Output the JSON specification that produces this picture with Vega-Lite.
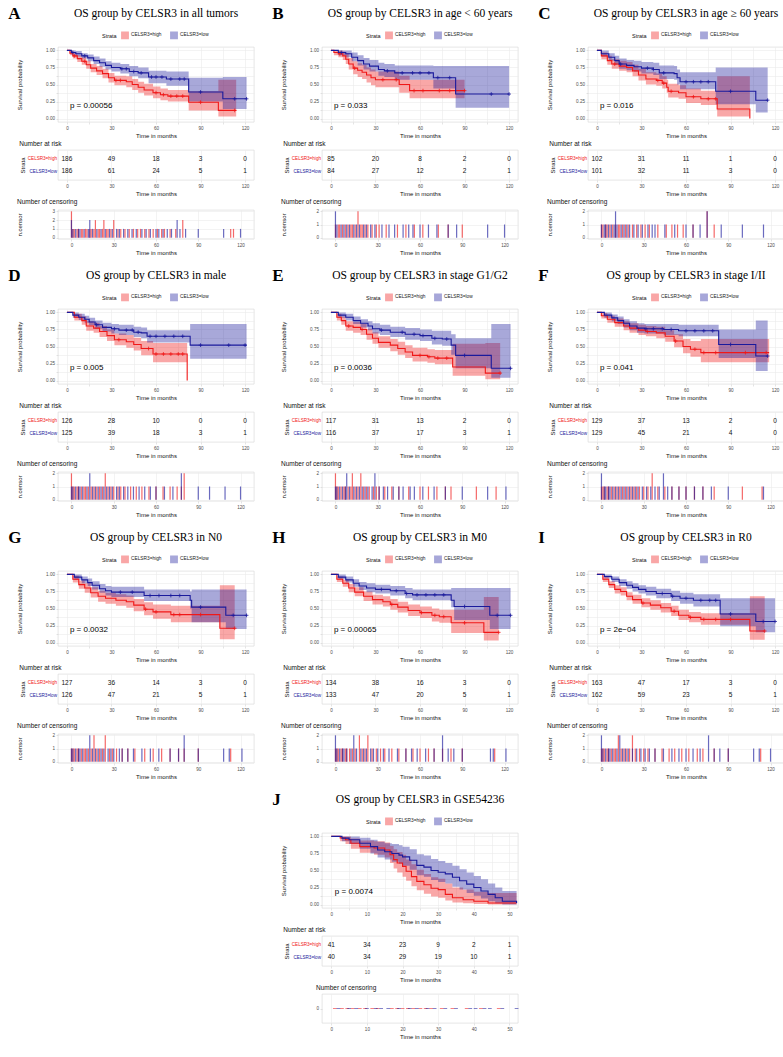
{
"$schema":"https://vega.github.io/schema/vega-lite/v6.json",
"padding":{"left":8,"top":5,"right":2,"bottom":2},
"background":"white",
"columns":3,
"spacing":{"row":11,"column":17},
"resolve":{"scale":{"color":"independent"},"legend":{"color":"independent"}},
"datasets":{
"km":[
{"p":"A","g":"CELSR3=high","t":[0,2,4,7,10,13,16,20,24,28,32,40,44,48,52,58,63,68,82,102,114],"s":[1,0.96,0.92,0.88,0.84,0.79,0.74,0.7,0.66,0.6,0.56,0.54,0.5,0.46,0.42,0.38,0.35,0.33,0.24,0.12,0.12],"lo":[1,0.93,0.88,0.83,0.79,0.73,0.68,0.64,0.59,0.53,0.49,0.46,0.42,0.38,0.34,0.3,0.27,0.25,0.12,0.03,0.03],"hi":[1,0.99,0.96,0.93,0.9,0.85,0.8,0.77,0.73,0.67,0.63,0.62,0.58,0.54,0.51,0.47,0.44,0.42,0.4,0.57,0.57]},
{"p":"A","g":"CELSR3=low","t":[0,3,6,10,14,18,22,26,30,36,42,48,55,67,82,105,121],"s":[1,0.97,0.95,0.92,0.89,0.85,0.82,0.78,0.75,0.73,0.69,0.67,0.61,0.58,0.39,0.29,0.29],"lo":[1,0.94,0.91,0.88,0.84,0.8,0.76,0.72,0.69,0.66,0.62,0.59,0.52,0.48,0.25,0.14,0.14],"hi":[1,1,0.99,0.96,0.94,0.91,0.88,0.84,0.82,0.8,0.77,0.75,0.7,0.69,0.6,0.61,0.61]},
{"p":"B","g":"CELSR3=high","t":[0,2,5,8,10,12,15,18,21,24,27,30,46,53,90],"s":[1,0.97,0.95,0.92,0.87,0.8,0.74,0.71,0.68,0.64,0.6,0.57,0.5,0.41,0.41],"lo":[1,0.93,0.9,0.86,0.8,0.72,0.65,0.61,0.58,0.53,0.49,0.46,0.38,0.3,0.3],"hi":[1,1,1,0.98,0.95,0.89,0.84,0.81,0.79,0.75,0.72,0.69,0.63,0.57,0.57]},
{"p":"B","g":"CELSR3=low","t":[0,5,10,14,18,22,26,32,36,43,69,84,120],"s":[1,0.97,0.95,0.9,0.85,0.8,0.77,0.72,0.7,0.67,0.6,0.36,0.36],"lo":[1,0.93,0.9,0.84,0.78,0.72,0.69,0.63,0.61,0.57,0.44,0.16,0.16],"hi":[1,1,1,0.97,0.93,0.89,0.86,0.82,0.8,0.78,0.77,0.77,0.77]},
{"p":"C","g":"CELSR3=high","t":[0,3,7,10,15,20,24,28,33,40,44,47,48,55,60,70,81,103],"s":[1,0.92,0.85,0.8,0.77,0.75,0.7,0.64,0.58,0.56,0.52,0.46,0.4,0.38,0.32,0.29,0.14,0],"lo":[1,0.87,0.79,0.73,0.7,0.68,0.62,0.56,0.5,0.48,0.44,0.38,0.31,0.29,0.23,0.2,0.03,0],"hi":[1,0.97,0.92,0.87,0.85,0.83,0.79,0.73,0.68,0.66,0.62,0.57,0.51,0.49,0.44,0.41,0.62,0]},
{"p":"C","g":"CELSR3=low","t":[0,3,8,12,15,20,25,30,38,42,52,54,56,80,107,115],"s":[1,0.95,0.9,0.85,0.8,0.78,0.76,0.74,0.72,0.67,0.66,0.6,0.54,0.4,0.27,0.27],"lo":[1,0.91,0.85,0.79,0.73,0.71,0.69,0.66,0.64,0.58,0.57,0.5,0.43,0.21,0.09,0.09],"hi":[1,1,0.96,0.92,0.88,0.86,0.85,0.83,0.82,0.78,0.77,0.72,0.68,0.75,0.75,0.75]},
{"p":"D","g":"CELSR3=high","t":[0,5,10,13,18,22,27,32,40,45,50,58,81],"s":[1,0.93,0.88,0.8,0.77,0.72,0.66,0.6,0.57,0.53,0.47,0.39,0],"lo":[1,0.88,0.82,0.73,0.7,0.64,0.58,0.52,0.48,0.44,0.37,0.27,0],"hi":[1,0.98,0.94,0.87,0.85,0.8,0.75,0.69,0.67,0.63,0.58,0.55,0]},
{"p":"D","g":"CELSR3=low","t":[0,4,8,12,15,19,24,30,35,45,50,54,83,121],"s":[1,0.96,0.93,0.9,0.86,0.82,0.78,0.76,0.74,0.71,0.7,0.65,0.52,0.52],"lo":[1,0.92,0.89,0.85,0.81,0.76,0.72,0.69,0.67,0.64,0.62,0.56,0.32,0.32],"hi":[1,1,0.98,0.95,0.92,0.88,0.85,0.83,0.82,0.79,0.78,0.74,0.83,0.83]},
{"p":"E","g":"CELSR3=high","t":[0,4,7,10,15,20,24,28,32,40,45,50,55,65,70,82,104,114],"s":[1,0.93,0.88,0.8,0.78,0.75,0.68,0.62,0.56,0.52,0.47,0.42,0.37,0.35,0.33,0.2,0.11,0.11],"lo":[1,0.88,0.82,0.73,0.7,0.67,0.6,0.54,0.48,0.43,0.38,0.33,0.28,0.26,0.24,0.07,0.02,0.02],"hi":[1,0.98,0.94,0.87,0.86,0.83,0.76,0.71,0.65,0.61,0.57,0.52,0.48,0.46,0.45,0.54,0.55,0.55]},
{"p":"E","g":"CELSR3=low","t":[0,5,10,15,20,25,28,33,40,50,60,68,75,81,84,108,121],"s":[1,0.96,0.93,0.88,0.84,0.8,0.76,0.74,0.71,0.68,0.66,0.62,0.61,0.52,0.37,0.18,0.18],"lo":[1,0.92,0.88,0.83,0.78,0.74,0.69,0.67,0.64,0.6,0.58,0.53,0.51,0.38,0.18,0.04,0.04],"hi":[1,1,0.98,0.94,0.9,0.87,0.84,0.82,0.79,0.77,0.75,0.73,0.73,0.68,0.62,0.83,0.83]},
{"p":"F","g":"CELSR3=high","t":[0,3,7,12,18,22,28,33,40,46,52,58,63,70,116],"s":[1,0.95,0.9,0.85,0.8,0.77,0.74,0.72,0.7,0.65,0.58,0.5,0.46,0.41,0.41],"lo":[1,0.91,0.85,0.79,0.74,0.7,0.67,0.65,0.62,0.57,0.49,0.4,0.35,0.27,0.27],"hi":[1,0.99,0.95,0.91,0.87,0.84,0.82,0.8,0.79,0.74,0.68,0.61,0.58,0.61,0.61]},
{"p":"F","g":"CELSR3=low","t":[0,5,10,14,18,22,27,32,45,55,82,107,115],"s":[1,0.96,0.92,0.88,0.84,0.8,0.77,0.76,0.75,0.73,0.53,0.36,0.36],"lo":[1,0.92,0.87,0.83,0.78,0.74,0.7,0.69,0.67,0.65,0.33,0.14,0.14],"hi":[1,1,0.97,0.94,0.9,0.87,0.84,0.83,0.83,0.82,0.75,0.88,0.88]},
{"p":"G","g":"CELSR3=high","t":[0,4,8,12,16,21,26,33,40,45,52,58,70,103,113],"s":[1,0.93,0.85,0.8,0.73,0.68,0.65,0.62,0.6,0.55,0.49,0.45,0.41,0.21,0.21],"lo":[1,0.88,0.79,0.73,0.66,0.6,0.57,0.54,0.51,0.46,0.4,0.35,0.3,0.05,0.05],"hi":[1,0.98,0.91,0.87,0.81,0.76,0.73,0.71,0.69,0.64,0.59,0.56,0.54,0.84,0.84]},
{"p":"G","g":"CELSR3=low","t":[0,5,10,14,17,22,26,30,52,83,84,107,121],"s":[1,0.96,0.92,0.88,0.84,0.79,0.76,0.74,0.69,0.62,0.52,0.4,0.4],"lo":[1,0.92,0.87,0.83,0.78,0.73,0.69,0.67,0.61,0.5,0.3,0.2,0.2],"hi":[1,1,0.97,0.94,0.9,0.86,0.83,0.82,0.78,0.75,0.78,0.78,0.78]},
{"p":"H","g":"CELSR3=high","t":[0,4,8,12,16,22,28,35,40,45,52,60,68,73,81,103,113],"s":[1,0.93,0.87,0.8,0.74,0.68,0.63,0.6,0.56,0.52,0.47,0.44,0.4,0.38,0.29,0.15,0.15],"lo":[1,0.89,0.82,0.74,0.68,0.61,0.56,0.53,0.48,0.44,0.39,0.36,0.31,0.29,0.14,0.03,0.03],"hi":[1,0.97,0.92,0.86,0.81,0.75,0.7,0.68,0.64,0.6,0.56,0.53,0.5,0.48,0.48,0.67,0.67]},
{"p":"H","g":"CELSR3=low","t":[0,5,10,15,19,24,30,40,50,55,81,83,107,121],"s":[1,0.96,0.92,0.87,0.83,0.8,0.78,0.76,0.72,0.7,0.62,0.53,0.4,0.4],"lo":[1,0.93,0.88,0.82,0.77,0.74,0.72,0.69,0.65,0.62,0.52,0.33,0.2,0.2],"hi":[1,1,0.97,0.93,0.89,0.87,0.85,0.83,0.8,0.78,0.8,0.8,0.8,0.8]},
{"p":"I","g":"CELSR3=high","t":[0,4,8,12,16,20,24,30,36,43,50,55,62,70,103,113],"s":[1,0.93,0.85,0.78,0.75,0.68,0.63,0.58,0.55,0.51,0.46,0.4,0.37,0.34,0.17,0.17],"lo":[1,0.89,0.8,0.72,0.69,0.62,0.57,0.52,0.48,0.44,0.39,0.33,0.3,0.26,0.04,0.04],"hi":[1,0.97,0.9,0.84,0.81,0.74,0.7,0.65,0.62,0.58,0.54,0.48,0.45,0.43,0.68,0.68]},
{"p":"I","g":"CELSR3=low","t":[0,5,10,15,20,24,28,33,40,50,56,65,83,107,120],"s":[1,0.97,0.93,0.88,0.84,0.81,0.78,0.75,0.72,0.68,0.65,0.62,0.42,0.31,0.31],"lo":[1,0.94,0.89,0.83,0.79,0.75,0.72,0.69,0.65,0.61,0.57,0.53,0.24,0.15,0.15],"hi":[1,1,0.97,0.93,0.9,0.87,0.84,0.82,0.79,0.76,0.73,0.71,0.65,0.65,0.65]},
{"p":"J","g":"CELSR3=high","t":[0,2.5,4,5.5,8,12,15,16.5,17.5,18.5,20,21,22.5,24,26,28,30,32,34,37,40,44,52],"s":[1,0.976,0.95,0.9,0.85,0.83,0.8,0.73,0.66,0.61,0.56,0.49,0.41,0.34,0.29,0.24,0.22,0.15,0.1,0.07,0.05,0.024,0.024],"lo":[1,0.93,0.89,0.82,0.76,0.73,0.69,0.61,0.53,0.47,0.41,0.35,0.27,0.21,0.16,0.12,0.1,0.06,0.03,0.02,0.01,0,0],"hi":[1,1,1,0.97,0.94,0.93,0.91,0.86,0.81,0.77,0.73,0.66,0.59,0.51,0.45,0.4,0.38,0.31,0.25,0.22,0.19,0.17,0.17]},
{"p":"J","g":"CELSR3=low","t":[0,3,5,8,11,13,15,17,19,20,22,24,26,28,30,32,34,36,38,40,42,44,46,48,52],"s":[1,0.975,0.95,0.9,0.85,0.8,0.775,0.75,0.725,0.7,0.65,0.575,0.55,0.5,0.475,0.45,0.4,0.35,0.3,0.25,0.2,0.15,0.1,0.05,0.025],"lo":[1,0.93,0.89,0.82,0.75,0.69,0.66,0.63,0.6,0.57,0.51,0.43,0.41,0.36,0.33,0.31,0.26,0.22,0.17,0.13,0.09,0.05,0.02,0,0],"hi":[1,1,1,0.98,0.95,0.92,0.9,0.89,0.87,0.85,0.81,0.74,0.72,0.67,0.64,0.61,0.57,0.52,0.47,0.42,0.37,0.31,0.25,0.2,0.2]}
],
"cr":[
{"p":"A","g":"CELSR3=high","t":[5,12,33,36,60,65,70,74,78,90,113],"s":[0.92,0.84,0.56,0.56,0.38,0.35,0.33,0.33,0.33,0.24,0.12]},
{"p":"A","g":"CELSR3=low","t":[4,12,37,40,45,50,57,60,64,70,76,79,90,113,121],"s":[0.97,0.92,0.73,0.73,0.69,0.67,0.61,0.61,0.61,0.58,0.58,0.58,0.39,0.29,0.29]},
{"p":"B","g":"CELSR3=high","t":[6,16,35,44,56,62,73,80,90],"s":[0.95,0.74,0.57,0.57,0.41,0.41,0.41,0.41,0.41]},
{"p":"B","g":"CELSR3=low","t":[7,38,48,55,60,66,72,80,108,120],"s":[0.97,0.7,0.67,0.67,0.67,0.67,0.6,0.6,0.36,0.36]},
{"p":"C","g":"CELSR3=high","t":[12,41,45,50,65,75,80],"s":[0.8,0.56,0.52,0.4,0.32,0.29,0.29]},
{"p":"C","g":"CELSR3=low","t":[16,34,38,45,60,65,70,75,90,115],"s":[0.8,0.74,0.72,0.67,0.54,0.54,0.54,0.54,0.4,0.27]},
{"p":"D","g":"CELSR3=high","t":[35,55,60,65,70,75,78],"s":[0.6,0.47,0.39,0.39,0.39,0.39,0.39]},
{"p":"D","g":"CELSR3=low","t":[20,32,40,44,48,56,60,66,72,78,90,109,120],"s":[0.82,0.76,0.74,0.74,0.71,0.65,0.65,0.65,0.65,0.65,0.52,0.52,0.52]},
{"p":"E","g":"CELSR3=high","t":[12,21,60,66,72,78,114],"s":[0.8,0.75,0.37,0.35,0.33,0.33,0.11]},
{"p":"E","g":"CELSR3=low","t":[34,48,56,62,70,78,90,121],"s":[0.74,0.71,0.68,0.66,0.62,0.61,0.37,0.18]},
{"p":"F","g":"CELSR3=high","t":[34,53,66,72,80,100,114],"s":[0.72,0.58,0.46,0.41,0.41,0.41,0.41]},
{"p":"F","g":"CELSR3=low","t":[33,38,44,50,60,66,72,78,90,115],"s":[0.76,0.76,0.76,0.75,0.73,0.73,0.73,0.73,0.53,0.36]},
{"p":"G","g":"CELSR3=high","t":[53,60,72,76,90,113],"s":[0.49,0.45,0.41,0.41,0.41,0.21]},
{"p":"G","g":"CELSR3=low","t":[36,44,56,62,70,76,90,112,121],"s":[0.74,0.74,0.69,0.69,0.69,0.69,0.52,0.4,0.4]},
{"p":"H","g":"CELSR3=high","t":[41,61,70,76,90,113],"s":[0.56,0.44,0.4,0.38,0.29,0.15]},
{"p":"H","g":"CELSR3=low","t":[34,44,51,58,64,70,76,90,112,121],"s":[0.78,0.76,0.72,0.7,0.7,0.7,0.7,0.53,0.4,0.4]},
{"p":"I","g":"CELSR3=high","t":[31,52,63,72,80,90,113],"s":[0.58,0.46,0.37,0.34,0.34,0.34,0.17]},
{"p":"I","g":"CELSR3=low","t":[44,51,60,70,76,80,90,112,120],"s":[0.72,0.68,0.65,0.62,0.62,0.62,0.42,0.31,0.31]}
],
"risk":[
{"p":"A","g":"CELSR3=high","t":[0,30,60,90,120],"n":[186,49,18,3,0]},
{"p":"A","g":"CELSR3=low","t":[0,30,60,90,120],"n":[186,61,24,5,1]},
{"p":"B","g":"CELSR3=high","t":[0,30,60,90,120],"n":[85,20,8,2,0]},
{"p":"B","g":"CELSR3=low","t":[0,30,60,90,120],"n":[84,27,12,2,1]},
{"p":"C","g":"CELSR3=high","t":[0,30,60,90,120],"n":[102,31,11,1,0]},
{"p":"C","g":"CELSR3=low","t":[0,30,60,90,120],"n":[101,32,11,3,0]},
{"p":"D","g":"CELSR3=high","t":[0,30,60,90,120],"n":[126,28,10,0,0]},
{"p":"D","g":"CELSR3=low","t":[0,30,60,90,120],"n":[125,39,18,3,1]},
{"p":"E","g":"CELSR3=high","t":[0,30,60,90,120],"n":[117,31,13,2,0]},
{"p":"E","g":"CELSR3=low","t":[0,30,60,90,120],"n":[116,37,17,3,1]},
{"p":"F","g":"CELSR3=high","t":[0,30,60,90,120],"n":[129,37,13,2,0]},
{"p":"F","g":"CELSR3=low","t":[0,30,60,90,120],"n":[129,45,21,4,0]},
{"p":"G","g":"CELSR3=high","t":[0,30,60,90,120],"n":[127,36,14,3,0]},
{"p":"G","g":"CELSR3=low","t":[0,30,60,90,120],"n":[126,47,21,5,1]},
{"p":"H","g":"CELSR3=high","t":[0,30,60,90,120],"n":[134,38,16,3,0]},
{"p":"H","g":"CELSR3=low","t":[0,30,60,90,120],"n":[133,47,20,5,1]},
{"p":"I","g":"CELSR3=high","t":[0,30,60,90,120],"n":[163,47,17,3,0]},
{"p":"I","g":"CELSR3=low","t":[0,30,60,90,120],"n":[162,59,23,5,1]},
{"p":"J","g":"CELSR3=high","t":[0,10,20,30,40,50],"n":[41,34,23,9,2,1]},
{"p":"J","g":"CELSR3=low","t":[0,10,20,30,40,50],"n":[40,34,29,19,10,1]}
],
"cen":[
{"p":"A","g":"CELSR3=high","t":[0,1,2,4,5,7,8,10,11,13,14,16,17,19,20,22,23,25,26,28,30,33,35,38,41,44,47,49,52,55,58,61,64,66,70,74,79,113,115],"n":[3,1,1,1,1,1,1,1,1,1,1,1,2,1,1,1,2,1,1,1,2,1,1,1,1,1,1,1,1,1,1,1,1,1,1,1,2,1,1]},
{"p":"A","g":"CELSR3=low","t":[0,1,3,5,6,9,12,13,15,18,21,24,27,29,32,34,37,40,43,46,50,53,56,60,62,65,68,71,75,77,81,90,108,120],"n":[2,1,1,1,1,1,1,2,1,1,1,1,1,1,1,1,1,1,1,1,1,1,1,1,1,1,1,1,2,1,1,1,1,1]},
{"p":"B","g":"CELSR3=high","t":[0,2,3,5,7,9,11,12,14,16,18,19,21,23,26,29,31,36,44,50,56,62,73,80,90],"n":[1,1,1,1,1,1,1,1,1,2,1,1,1,1,1,1,1,1,1,1,1,1,1,1,1]},
{"p":"B","g":"CELSR3=low","t":[0,1,4,6,8,10,13,15,17,20,22,25,28,33,38,42,48,52,55,60,66,72,80,86,108,120],"n":[2,1,1,1,1,1,1,1,1,1,1,1,1,1,1,1,1,1,1,1,1,1,1,1,1,1]},
{"p":"C","g":"CELSR3=high","t":[0,1,3,4,6,8,10,12,13,15,17,19,22,25,28,31,34,40,46,50,54,58,65,75,80],"n":[1,1,1,1,1,1,1,1,1,1,1,1,1,1,1,1,1,1,1,1,1,1,1,2,1]},
{"p":"C","g":"CELSR3=low","t":[0,2,3,5,7,9,10,11,14,16,18,20,23,26,29,33,36,38,45,52,60,65,70,75,85,100,115],"n":[1,1,1,1,1,1,2,1,1,1,1,1,1,1,1,1,1,1,1,1,1,1,1,2,1,1,1]},
{"p":"D","g":"CELSR3=high","t":[0,1,2,4,5,7,9,10,12,14,16,18,20,22,24,26,28,30,33,35,38,42,46,50,55,60,65,70,75,78,80],"n":[2,1,1,1,1,1,1,1,1,1,1,1,1,1,2,1,1,1,1,1,1,1,1,1,1,1,1,1,1,1,2]},
{"p":"D","g":"CELSR3=low","t":[0,1,3,5,6,8,11,13,15,17,19,21,23,25,27,29,32,34,37,40,44,48,52,56,60,66,72,78,90,98,109,120],"n":[1,1,1,1,1,1,1,2,1,1,1,1,1,1,1,1,1,1,1,1,1,1,1,1,1,1,1,2,1,1,1,1]},
{"p":"E","g":"CELSR3=high","t":[0,1,2,4,6,7,9,11,12,14,16,18,20,22,24,27,29,31,35,40,45,52,60,66,72,78,82,100,114],"n":[2,1,1,1,1,1,1,1,2,1,1,2,1,1,1,1,1,1,1,1,1,1,1,1,1,1,1,1,1]},
{"p":"E","g":"CELSR3=low","t":[0,1,3,5,7,8,10,13,15,17,19,21,23,26,28,31,34,37,41,45,48,53,56,62,70,78,90,108,121],"n":[1,1,1,1,1,2,1,1,1,1,1,1,1,1,2,1,1,1,1,1,1,1,1,1,1,1,1,1,1]},
{"p":"F","g":"CELSR3=high","t":[0,1,2,4,5,7,9,11,13,15,17,19,21,23,25,27,30,33,36,40,45,50,55,60,66,72,80,100,114],"n":[1,1,1,1,1,1,1,1,1,1,1,1,1,1,1,1,1,1,2,1,1,1,1,1,1,1,1,1,1]},
{"p":"F","g":"CELSR3=low","t":[0,2,3,5,6,8,10,12,14,16,18,20,22,24,26,29,32,35,38,41,44,47,50,55,60,66,72,78,90,115],"n":[2,1,1,1,1,1,1,1,1,1,1,1,1,1,1,1,1,1,1,1,2,1,1,1,1,1,1,1,1,1]},
{"p":"G","g":"CELSR3=high","t":[0,1,2,4,5,7,9,10,12,14,16,18,20,22,24,27,29,32,36,40,45,52,58,64,70,76,80,90,113],"n":[1,1,1,1,1,1,1,1,1,1,2,1,1,1,2,1,1,1,1,1,1,1,1,1,1,1,1,1,1]},
{"p":"G","g":"CELSR3=low","t":[0,1,3,5,6,8,11,13,15,17,19,21,23,26,28,30,34,36,40,44,50,56,62,70,76,80,90,108,112,121],"n":[1,1,1,1,1,1,1,2,1,1,1,1,1,1,1,1,1,1,1,1,1,1,1,1,1,2,1,1,1,1]},
{"p":"H","g":"CELSR3=high","t":[0,1,2,4,5,7,8,10,12,14,17,19,21,23,26,29,32,35,40,45,50,55,60,66,70,76,82,90,113],"n":[1,1,1,1,1,1,1,1,1,1,2,1,1,2,1,1,1,1,1,1,1,1,1,1,1,1,1,1,1]},
{"p":"H","g":"CELSR3=low","t":[0,1,3,5,6,8,11,13,15,18,20,22,25,27,30,34,38,44,50,54,58,64,70,76,80,84,90,110,112,121],"n":[2,1,1,1,1,1,1,2,1,1,1,1,1,1,1,1,1,1,1,1,1,1,1,2,1,1,1,1,1,1]},
{"p":"I","g":"CELSR3=high","t":[0,1,2,4,5,7,9,10,12,14,16,18,20,22,24,27,30,33,38,43,48,52,57,62,68,72,80,90,113],"n":[1,1,1,1,1,1,1,1,2,1,1,1,1,2,1,1,1,1,1,1,1,1,1,1,1,1,1,1,1]},
{"p":"I","g":"CELSR3=low","t":[0,1,3,5,6,8,11,13,15,17,19,22,25,28,31,34,38,44,50,55,60,65,70,76,80,84,90,108,112,120],"n":[2,1,1,1,1,1,1,2,1,1,1,1,1,1,1,1,1,1,1,1,1,1,1,2,1,1,1,1,1,1]}
],
"cj":[
{"p":"J","g":"CELSR3=high","t":[1,3,4.5,6,8,9.5,11.5,13,17,18.5,20,21.5,23,25,26.5,28,31,34,38,42,47]},
{"p":"J","g":"CELSR3=low","t":[2,5,7,10,12.5,14,16,19,22,24,27,29,32,35,39,40.5,43,44.5,48,52]}
]
},
"concat":[
{"title":{"text":"A","anchor":"start","frame":"bounds","font":"Liberation Serif","fontSize":17,"fontWeight":"bold","color":"#000","dx":-8,"dy":16,"offset":0},
"resolve":{"scale":{"color":"independent"},"legend":{"color":"independent"}},
"vconcat":[
{"title":{"text":"OS group by CELSR3 in all tumors","anchor":"middle","font":"Liberation Serif","fontSize":11.5,"color":"#000","offset":12},
"width":196,"height":75,
"layer":[
{"data":{"name":"km"},"transform":[{"filter":"datum.p=='A'"},{"flatten":["t","s","lo","hi"]}],"mark":{"type":"area","interpolate":"step-after","opacity":0.38},
"encoding":{"x":{"field":"t","type":"quantitative","title":"Time in months","scale":{"domain":[-6,126],"nice":false,"zero":false},"axis":{"values":[0,15,30,45,60,75,90,105,120],"labelExpr":"datum.value % 30 ? '' : datum.label"}},"y":{"field":"lo","type":"quantitative","title":"Survival probability","scale":{"domain":[-0.05,1.05],"nice":false,"zero":false},"axis":{"values":[0,0.125,0.25,0.375,0.5,0.625,0.75,0.875,1],"format":".2f","labelExpr":"(datum.value*8) % 2 ? '' : datum.label","titlePadding":23}},"y2":{"field":"hi"},"color":{"field":"g","type":"nominal","title":"Strata"}}},
{"data":{"name":"km"},"transform":[{"filter":"datum.p=='A'"},{"flatten":["t","s","lo","hi"]}],"mark":{"type":"line","interpolate":"step-after","strokeWidth":1.1},
"encoding":{"x":{"field":"t","type":"quantitative","title":"Time in months","scale":{"domain":[-6,126],"nice":false,"zero":false},"axis":{"values":[0,15,30,45,60,75,90,105,120],"labelExpr":"datum.value % 30 ? '' : datum.label"}},"y":{"field":"s","type":"quantitative","title":"Survival probability","scale":{"domain":[-0.05,1.05],"nice":false,"zero":false},"axis":{"values":[0,0.125,0.25,0.375,0.5,0.625,0.75,0.875,1],"format":".2f","labelExpr":"(datum.value*8) % 2 ? '' : datum.label","titlePadding":23}},"color":{"field":"g","type":"nominal","title":"Strata"}}},
{"data":{"name":"cr"},"transform":[{"filter":"datum.p=='A'"},{"flatten":["t","s"]}],"mark":{"type":"point","shape":"M-1,0H1M0,-1V1","filled":false,"size":14,"strokeWidth":0.8,"opacity":1},
"encoding":{"x":{"field":"t","type":"quantitative","title":"Time in months","scale":{"domain":[-6,126],"nice":false,"zero":false},"axis":{"values":[0,15,30,45,60,75,90,105,120],"labelExpr":"datum.value % 30 ? '' : datum.label"}},"y":{"field":"s","type":"quantitative","title":"Survival probability","scale":{"domain":[-0.05,1.05],"nice":false,"zero":false},"axis":{"values":[0,0.125,0.25,0.375,0.5,0.625,0.75,0.875,1],"format":".2f","labelExpr":"(datum.value*8) % 2 ? '' : datum.label","titlePadding":23}},"color":{"field":"g","type":"nominal","title":"Strata"}}},
{"data":{"values":[{}]},"mark":{"type":"text","align":"left","baseline":"middle","fontSize":8,"color":"#000"},"encoding":{"x":{"datum":2,"type":"quantitative","title":"Time in months","scale":{"domain":[-6,126],"nice":false,"zero":false},"axis":{"values":[0,15,30,45,60,75,90,105,120],"labelExpr":"datum.value % 30 ? '' : datum.label"}},"y":{"datum":0.19,"type":"quantitative","title":"Survival probability","scale":{"domain":[-0.05,1.05],"nice":false,"zero":false},"axis":{"values":[0,0.125,0.25,0.375,0.5,0.625,0.75,0.875,1],"format":".2f","labelExpr":"(datum.value*8) % 2 ? '' : datum.label","titlePadding":23}},"text":{"value":"p = 0.00056"}}}
]},
{"title":{"text":"Number at risk"},"width":196,"height":30,"data":{"name":"risk"},"transform":[{"filter":"datum.p=='A'"},{"flatten":["t","n"]}],"mark":{"type":"text","fontSize":6.5,"color":"#111"},
"encoding":{"x":{"field":"t","type":"quantitative","title":"Time in months","scale":{"domain":[-6,126],"nice":false,"zero":false},"axis":{"values":[0,30,60,90,120]}},"y":{"field":"g","type":"nominal","title":"Strata","scale":{"domain":["CELSR3=high","CELSR3=low"],"padding":0.7},"axis":{"grid":false,"ticks":false,"labelColor":{"condition":{"test":"datum.value=='CELSR3=high'","value":"#F01818"},"value":"#1A1A9C"}}},"text":{"field":"n","type":"quantitative"}}},
{"title":{"text":"Number of censoring"},"width":196,"height":29,"data":{"name":"cen"},"transform":[{"filter":"datum.p=='A'"},{"flatten":["t","n"]}],"mark":{"type":"bar","width":1.2,"opacity":0.65},
"encoding":{"x":{"field":"t","type":"quantitative","title":"Time in months","scale":{"domain":[-6,126],"nice":false,"zero":false},"axis":{"values":[0,30,60,90,120]}},"y":{"field":"n","type":"quantitative","title":"n.censor","scale":{"domain":[-0.15,3.15],"nice":false,"zero":false},"axis":{"values":[0,1,2,3],"titlePadding":29}},"y2":{"datum":0},"color":{"field":"g","type":"nominal","legend":null}}}
]},
{"title":{"text":"B","anchor":"start","frame":"bounds","font":"Liberation Serif","fontSize":17,"fontWeight":"bold","color":"#000","dx":-8,"dy":16,"offset":0},
"resolve":{"scale":{"color":"independent"},"legend":{"color":"independent"}},
"vconcat":[
{"title":{"text":"OS group by CELSR3 in age < 60 years","anchor":"middle","font":"Liberation Serif","fontSize":11.5,"color":"#000","offset":12},
"width":196,"height":75,
"layer":[
{"data":{"name":"km"},"transform":[{"filter":"datum.p=='B'"},{"flatten":["t","s","lo","hi"]}],"mark":{"type":"area","interpolate":"step-after","opacity":0.38},
"encoding":{"x":{"field":"t","type":"quantitative","title":"Time in months","scale":{"domain":[-6,126],"nice":false,"zero":false},"axis":{"values":[0,15,30,45,60,75,90,105,120],"labelExpr":"datum.value % 30 ? '' : datum.label"}},"y":{"field":"lo","type":"quantitative","title":"Survival probability","scale":{"domain":[-0.05,1.05],"nice":false,"zero":false},"axis":{"values":[0,0.125,0.25,0.375,0.5,0.625,0.75,0.875,1],"format":".2f","labelExpr":"(datum.value*8) % 2 ? '' : datum.label","titlePadding":23}},"y2":{"field":"hi"},"color":{"field":"g","type":"nominal","title":"Strata"}}},
{"data":{"name":"km"},"transform":[{"filter":"datum.p=='B'"},{"flatten":["t","s","lo","hi"]}],"mark":{"type":"line","interpolate":"step-after","strokeWidth":1.1},
"encoding":{"x":{"field":"t","type":"quantitative","title":"Time in months","scale":{"domain":[-6,126],"nice":false,"zero":false},"axis":{"values":[0,15,30,45,60,75,90,105,120],"labelExpr":"datum.value % 30 ? '' : datum.label"}},"y":{"field":"s","type":"quantitative","title":"Survival probability","scale":{"domain":[-0.05,1.05],"nice":false,"zero":false},"axis":{"values":[0,0.125,0.25,0.375,0.5,0.625,0.75,0.875,1],"format":".2f","labelExpr":"(datum.value*8) % 2 ? '' : datum.label","titlePadding":23}},"color":{"field":"g","type":"nominal","title":"Strata"}}},
{"data":{"name":"cr"},"transform":[{"filter":"datum.p=='B'"},{"flatten":["t","s"]}],"mark":{"type":"point","shape":"M-1,0H1M0,-1V1","filled":false,"size":14,"strokeWidth":0.8,"opacity":1},
"encoding":{"x":{"field":"t","type":"quantitative","title":"Time in months","scale":{"domain":[-6,126],"nice":false,"zero":false},"axis":{"values":[0,15,30,45,60,75,90,105,120],"labelExpr":"datum.value % 30 ? '' : datum.label"}},"y":{"field":"s","type":"quantitative","title":"Survival probability","scale":{"domain":[-0.05,1.05],"nice":false,"zero":false},"axis":{"values":[0,0.125,0.25,0.375,0.5,0.625,0.75,0.875,1],"format":".2f","labelExpr":"(datum.value*8) % 2 ? '' : datum.label","titlePadding":23}},"color":{"field":"g","type":"nominal","title":"Strata"}}},
{"data":{"values":[{}]},"mark":{"type":"text","align":"left","baseline":"middle","fontSize":8,"color":"#000"},"encoding":{"x":{"datum":2,"type":"quantitative","title":"Time in months","scale":{"domain":[-6,126],"nice":false,"zero":false},"axis":{"values":[0,15,30,45,60,75,90,105,120],"labelExpr":"datum.value % 30 ? '' : datum.label"}},"y":{"datum":0.19,"type":"quantitative","title":"Survival probability","scale":{"domain":[-0.05,1.05],"nice":false,"zero":false},"axis":{"values":[0,0.125,0.25,0.375,0.5,0.625,0.75,0.875,1],"format":".2f","labelExpr":"(datum.value*8) % 2 ? '' : datum.label","titlePadding":23}},"text":{"value":"p = 0.033"}}}
]},
{"title":{"text":"Number at risk"},"width":196,"height":30,"data":{"name":"risk"},"transform":[{"filter":"datum.p=='B'"},{"flatten":["t","n"]}],"mark":{"type":"text","fontSize":6.5,"color":"#111"},
"encoding":{"x":{"field":"t","type":"quantitative","title":"Time in months","scale":{"domain":[-6,126],"nice":false,"zero":false},"axis":{"values":[0,30,60,90,120]}},"y":{"field":"g","type":"nominal","title":"Strata","scale":{"domain":["CELSR3=high","CELSR3=low"],"padding":0.7},"axis":{"grid":false,"ticks":false,"labelColor":{"condition":{"test":"datum.value=='CELSR3=high'","value":"#F01818"},"value":"#1A1A9C"}}},"text":{"field":"n","type":"quantitative"}}},
{"title":{"text":"Number of censoring"},"width":196,"height":29,"data":{"name":"cen"},"transform":[{"filter":"datum.p=='B'"},{"flatten":["t","n"]}],"mark":{"type":"bar","width":1.2,"opacity":0.65},
"encoding":{"x":{"field":"t","type":"quantitative","title":"Time in months","scale":{"domain":[-6,126],"nice":false,"zero":false},"axis":{"values":[0,30,60,90,120]}},"y":{"field":"n","type":"quantitative","title":"n.censor","scale":{"domain":[-0.1,2.1],"nice":false,"zero":false},"axis":{"values":[0,1,2],"titlePadding":29}},"y2":{"datum":0},"color":{"field":"g","type":"nominal","legend":null}}}
]},
{"title":{"text":"C","anchor":"start","frame":"bounds","font":"Liberation Serif","fontSize":17,"fontWeight":"bold","color":"#000","dx":-8,"dy":16,"offset":0},
"resolve":{"scale":{"color":"independent"},"legend":{"color":"independent"}},
"vconcat":[
{"title":{"text":"OS group by CELSR3 in age ≥ 60 years","anchor":"middle","font":"Liberation Serif","fontSize":11.5,"color":"#000","offset":12},
"width":196,"height":75,
"layer":[
{"data":{"name":"km"},"transform":[{"filter":"datum.p=='C'"},{"flatten":["t","s","lo","hi"]}],"mark":{"type":"area","interpolate":"step-after","opacity":0.38},
"encoding":{"x":{"field":"t","type":"quantitative","title":"Time in months","scale":{"domain":[-6,126],"nice":false,"zero":false},"axis":{"values":[0,15,30,45,60,75,90,105,120],"labelExpr":"datum.value % 30 ? '' : datum.label"}},"y":{"field":"lo","type":"quantitative","title":"Survival probability","scale":{"domain":[-0.05,1.05],"nice":false,"zero":false},"axis":{"values":[0,0.125,0.25,0.375,0.5,0.625,0.75,0.875,1],"format":".2f","labelExpr":"(datum.value*8) % 2 ? '' : datum.label","titlePadding":23}},"y2":{"field":"hi"},"color":{"field":"g","type":"nominal","title":"Strata"}}},
{"data":{"name":"km"},"transform":[{"filter":"datum.p=='C'"},{"flatten":["t","s","lo","hi"]}],"mark":{"type":"line","interpolate":"step-after","strokeWidth":1.1},
"encoding":{"x":{"field":"t","type":"quantitative","title":"Time in months","scale":{"domain":[-6,126],"nice":false,"zero":false},"axis":{"values":[0,15,30,45,60,75,90,105,120],"labelExpr":"datum.value % 30 ? '' : datum.label"}},"y":{"field":"s","type":"quantitative","title":"Survival probability","scale":{"domain":[-0.05,1.05],"nice":false,"zero":false},"axis":{"values":[0,0.125,0.25,0.375,0.5,0.625,0.75,0.875,1],"format":".2f","labelExpr":"(datum.value*8) % 2 ? '' : datum.label","titlePadding":23}},"color":{"field":"g","type":"nominal","title":"Strata"}}},
{"data":{"name":"cr"},"transform":[{"filter":"datum.p=='C'"},{"flatten":["t","s"]}],"mark":{"type":"point","shape":"M-1,0H1M0,-1V1","filled":false,"size":14,"strokeWidth":0.8,"opacity":1},
"encoding":{"x":{"field":"t","type":"quantitative","title":"Time in months","scale":{"domain":[-6,126],"nice":false,"zero":false},"axis":{"values":[0,15,30,45,60,75,90,105,120],"labelExpr":"datum.value % 30 ? '' : datum.label"}},"y":{"field":"s","type":"quantitative","title":"Survival probability","scale":{"domain":[-0.05,1.05],"nice":false,"zero":false},"axis":{"values":[0,0.125,0.25,0.375,0.5,0.625,0.75,0.875,1],"format":".2f","labelExpr":"(datum.value*8) % 2 ? '' : datum.label","titlePadding":23}},"color":{"field":"g","type":"nominal","title":"Strata"}}},
{"data":{"values":[{}]},"mark":{"type":"text","align":"left","baseline":"middle","fontSize":8,"color":"#000"},"encoding":{"x":{"datum":2,"type":"quantitative","title":"Time in months","scale":{"domain":[-6,126],"nice":false,"zero":false},"axis":{"values":[0,15,30,45,60,75,90,105,120],"labelExpr":"datum.value % 30 ? '' : datum.label"}},"y":{"datum":0.19,"type":"quantitative","title":"Survival probability","scale":{"domain":[-0.05,1.05],"nice":false,"zero":false},"axis":{"values":[0,0.125,0.25,0.375,0.5,0.625,0.75,0.875,1],"format":".2f","labelExpr":"(datum.value*8) % 2 ? '' : datum.label","titlePadding":23}},"text":{"value":"p = 0.016"}}}
]},
{"title":{"text":"Number at risk"},"width":196,"height":30,"data":{"name":"risk"},"transform":[{"filter":"datum.p=='C'"},{"flatten":["t","n"]}],"mark":{"type":"text","fontSize":6.5,"color":"#111"},
"encoding":{"x":{"field":"t","type":"quantitative","title":"Time in months","scale":{"domain":[-6,126],"nice":false,"zero":false},"axis":{"values":[0,30,60,90,120]}},"y":{"field":"g","type":"nominal","title":"Strata","scale":{"domain":["CELSR3=high","CELSR3=low"],"padding":0.7},"axis":{"grid":false,"ticks":false,"labelColor":{"condition":{"test":"datum.value=='CELSR3=high'","value":"#F01818"},"value":"#1A1A9C"}}},"text":{"field":"n","type":"quantitative"}}},
{"title":{"text":"Number of censoring"},"width":196,"height":29,"data":{"name":"cen"},"transform":[{"filter":"datum.p=='C'"},{"flatten":["t","n"]}],"mark":{"type":"bar","width":1.2,"opacity":0.65},
"encoding":{"x":{"field":"t","type":"quantitative","title":"Time in months","scale":{"domain":[-6,126],"nice":false,"zero":false},"axis":{"values":[0,30,60,90,120]}},"y":{"field":"n","type":"quantitative","title":"n.censor","scale":{"domain":[-0.1,2.1],"nice":false,"zero":false},"axis":{"values":[0,1,2],"titlePadding":29}},"y2":{"datum":0},"color":{"field":"g","type":"nominal","legend":null}}}
]},
{"title":{"text":"D","anchor":"start","frame":"bounds","font":"Liberation Serif","fontSize":17,"fontWeight":"bold","color":"#000","dx":-8,"dy":16,"offset":0},
"resolve":{"scale":{"color":"independent"},"legend":{"color":"independent"}},
"vconcat":[
{"title":{"text":"OS group by CELSR3 in male","anchor":"middle","font":"Liberation Serif","fontSize":11.5,"color":"#000","offset":12},
"width":196,"height":75,
"layer":[
{"data":{"name":"km"},"transform":[{"filter":"datum.p=='D'"},{"flatten":["t","s","lo","hi"]}],"mark":{"type":"area","interpolate":"step-after","opacity":0.38},
"encoding":{"x":{"field":"t","type":"quantitative","title":"Time in months","scale":{"domain":[-6,126],"nice":false,"zero":false},"axis":{"values":[0,15,30,45,60,75,90,105,120],"labelExpr":"datum.value % 30 ? '' : datum.label"}},"y":{"field":"lo","type":"quantitative","title":"Survival probability","scale":{"domain":[-0.05,1.05],"nice":false,"zero":false},"axis":{"values":[0,0.125,0.25,0.375,0.5,0.625,0.75,0.875,1],"format":".2f","labelExpr":"(datum.value*8) % 2 ? '' : datum.label","titlePadding":23}},"y2":{"field":"hi"},"color":{"field":"g","type":"nominal","title":"Strata"}}},
{"data":{"name":"km"},"transform":[{"filter":"datum.p=='D'"},{"flatten":["t","s","lo","hi"]}],"mark":{"type":"line","interpolate":"step-after","strokeWidth":1.1},
"encoding":{"x":{"field":"t","type":"quantitative","title":"Time in months","scale":{"domain":[-6,126],"nice":false,"zero":false},"axis":{"values":[0,15,30,45,60,75,90,105,120],"labelExpr":"datum.value % 30 ? '' : datum.label"}},"y":{"field":"s","type":"quantitative","title":"Survival probability","scale":{"domain":[-0.05,1.05],"nice":false,"zero":false},"axis":{"values":[0,0.125,0.25,0.375,0.5,0.625,0.75,0.875,1],"format":".2f","labelExpr":"(datum.value*8) % 2 ? '' : datum.label","titlePadding":23}},"color":{"field":"g","type":"nominal","title":"Strata"}}},
{"data":{"name":"cr"},"transform":[{"filter":"datum.p=='D'"},{"flatten":["t","s"]}],"mark":{"type":"point","shape":"M-1,0H1M0,-1V1","filled":false,"size":14,"strokeWidth":0.8,"opacity":1},
"encoding":{"x":{"field":"t","type":"quantitative","title":"Time in months","scale":{"domain":[-6,126],"nice":false,"zero":false},"axis":{"values":[0,15,30,45,60,75,90,105,120],"labelExpr":"datum.value % 30 ? '' : datum.label"}},"y":{"field":"s","type":"quantitative","title":"Survival probability","scale":{"domain":[-0.05,1.05],"nice":false,"zero":false},"axis":{"values":[0,0.125,0.25,0.375,0.5,0.625,0.75,0.875,1],"format":".2f","labelExpr":"(datum.value*8) % 2 ? '' : datum.label","titlePadding":23}},"color":{"field":"g","type":"nominal","title":"Strata"}}},
{"data":{"values":[{}]},"mark":{"type":"text","align":"left","baseline":"middle","fontSize":8,"color":"#000"},"encoding":{"x":{"datum":2,"type":"quantitative","title":"Time in months","scale":{"domain":[-6,126],"nice":false,"zero":false},"axis":{"values":[0,15,30,45,60,75,90,105,120],"labelExpr":"datum.value % 30 ? '' : datum.label"}},"y":{"datum":0.19,"type":"quantitative","title":"Survival probability","scale":{"domain":[-0.05,1.05],"nice":false,"zero":false},"axis":{"values":[0,0.125,0.25,0.375,0.5,0.625,0.75,0.875,1],"format":".2f","labelExpr":"(datum.value*8) % 2 ? '' : datum.label","titlePadding":23}},"text":{"value":"p = 0.005"}}}
]},
{"title":{"text":"Number at risk"},"width":196,"height":30,"data":{"name":"risk"},"transform":[{"filter":"datum.p=='D'"},{"flatten":["t","n"]}],"mark":{"type":"text","fontSize":6.5,"color":"#111"},
"encoding":{"x":{"field":"t","type":"quantitative","title":"Time in months","scale":{"domain":[-6,126],"nice":false,"zero":false},"axis":{"values":[0,30,60,90,120]}},"y":{"field":"g","type":"nominal","title":"Strata","scale":{"domain":["CELSR3=high","CELSR3=low"],"padding":0.7},"axis":{"grid":false,"ticks":false,"labelColor":{"condition":{"test":"datum.value=='CELSR3=high'","value":"#F01818"},"value":"#1A1A9C"}}},"text":{"field":"n","type":"quantitative"}}},
{"title":{"text":"Number of censoring"},"width":196,"height":29,"data":{"name":"cen"},"transform":[{"filter":"datum.p=='D'"},{"flatten":["t","n"]}],"mark":{"type":"bar","width":1.2,"opacity":0.65},
"encoding":{"x":{"field":"t","type":"quantitative","title":"Time in months","scale":{"domain":[-6,126],"nice":false,"zero":false},"axis":{"values":[0,30,60,90,120]}},"y":{"field":"n","type":"quantitative","title":"n.censor","scale":{"domain":[-0.1,2.1],"nice":false,"zero":false},"axis":{"values":[0,1,2],"titlePadding":29}},"y2":{"datum":0},"color":{"field":"g","type":"nominal","legend":null}}}
]},
{"title":{"text":"E","anchor":"start","frame":"bounds","font":"Liberation Serif","fontSize":17,"fontWeight":"bold","color":"#000","dx":-8,"dy":16,"offset":0},
"resolve":{"scale":{"color":"independent"},"legend":{"color":"independent"}},
"vconcat":[
{"title":{"text":"OS group by CELSR3 in stage G1/G2","anchor":"middle","font":"Liberation Serif","fontSize":11.5,"color":"#000","offset":12},
"width":196,"height":75,
"layer":[
{"data":{"name":"km"},"transform":[{"filter":"datum.p=='E'"},{"flatten":["t","s","lo","hi"]}],"mark":{"type":"area","interpolate":"step-after","opacity":0.38},
"encoding":{"x":{"field":"t","type":"quantitative","title":"Time in months","scale":{"domain":[-6,126],"nice":false,"zero":false},"axis":{"values":[0,15,30,45,60,75,90,105,120],"labelExpr":"datum.value % 30 ? '' : datum.label"}},"y":{"field":"lo","type":"quantitative","title":"Survival probability","scale":{"domain":[-0.05,1.05],"nice":false,"zero":false},"axis":{"values":[0,0.125,0.25,0.375,0.5,0.625,0.75,0.875,1],"format":".2f","labelExpr":"(datum.value*8) % 2 ? '' : datum.label","titlePadding":23}},"y2":{"field":"hi"},"color":{"field":"g","type":"nominal","title":"Strata"}}},
{"data":{"name":"km"},"transform":[{"filter":"datum.p=='E'"},{"flatten":["t","s","lo","hi"]}],"mark":{"type":"line","interpolate":"step-after","strokeWidth":1.1},
"encoding":{"x":{"field":"t","type":"quantitative","title":"Time in months","scale":{"domain":[-6,126],"nice":false,"zero":false},"axis":{"values":[0,15,30,45,60,75,90,105,120],"labelExpr":"datum.value % 30 ? '' : datum.label"}},"y":{"field":"s","type":"quantitative","title":"Survival probability","scale":{"domain":[-0.05,1.05],"nice":false,"zero":false},"axis":{"values":[0,0.125,0.25,0.375,0.5,0.625,0.75,0.875,1],"format":".2f","labelExpr":"(datum.value*8) % 2 ? '' : datum.label","titlePadding":23}},"color":{"field":"g","type":"nominal","title":"Strata"}}},
{"data":{"name":"cr"},"transform":[{"filter":"datum.p=='E'"},{"flatten":["t","s"]}],"mark":{"type":"point","shape":"M-1,0H1M0,-1V1","filled":false,"size":14,"strokeWidth":0.8,"opacity":1},
"encoding":{"x":{"field":"t","type":"quantitative","title":"Time in months","scale":{"domain":[-6,126],"nice":false,"zero":false},"axis":{"values":[0,15,30,45,60,75,90,105,120],"labelExpr":"datum.value % 30 ? '' : datum.label"}},"y":{"field":"s","type":"quantitative","title":"Survival probability","scale":{"domain":[-0.05,1.05],"nice":false,"zero":false},"axis":{"values":[0,0.125,0.25,0.375,0.5,0.625,0.75,0.875,1],"format":".2f","labelExpr":"(datum.value*8) % 2 ? '' : datum.label","titlePadding":23}},"color":{"field":"g","type":"nominal","title":"Strata"}}},
{"data":{"values":[{}]},"mark":{"type":"text","align":"left","baseline":"middle","fontSize":8,"color":"#000"},"encoding":{"x":{"datum":2,"type":"quantitative","title":"Time in months","scale":{"domain":[-6,126],"nice":false,"zero":false},"axis":{"values":[0,15,30,45,60,75,90,105,120],"labelExpr":"datum.value % 30 ? '' : datum.label"}},"y":{"datum":0.19,"type":"quantitative","title":"Survival probability","scale":{"domain":[-0.05,1.05],"nice":false,"zero":false},"axis":{"values":[0,0.125,0.25,0.375,0.5,0.625,0.75,0.875,1],"format":".2f","labelExpr":"(datum.value*8) % 2 ? '' : datum.label","titlePadding":23}},"text":{"value":"p = 0.0036"}}}
]},
{"title":{"text":"Number at risk"},"width":196,"height":30,"data":{"name":"risk"},"transform":[{"filter":"datum.p=='E'"},{"flatten":["t","n"]}],"mark":{"type":"text","fontSize":6.5,"color":"#111"},
"encoding":{"x":{"field":"t","type":"quantitative","title":"Time in months","scale":{"domain":[-6,126],"nice":false,"zero":false},"axis":{"values":[0,30,60,90,120]}},"y":{"field":"g","type":"nominal","title":"Strata","scale":{"domain":["CELSR3=high","CELSR3=low"],"padding":0.7},"axis":{"grid":false,"ticks":false,"labelColor":{"condition":{"test":"datum.value=='CELSR3=high'","value":"#F01818"},"value":"#1A1A9C"}}},"text":{"field":"n","type":"quantitative"}}},
{"title":{"text":"Number of censoring"},"width":196,"height":29,"data":{"name":"cen"},"transform":[{"filter":"datum.p=='E'"},{"flatten":["t","n"]}],"mark":{"type":"bar","width":1.2,"opacity":0.65},
"encoding":{"x":{"field":"t","type":"quantitative","title":"Time in months","scale":{"domain":[-6,126],"nice":false,"zero":false},"axis":{"values":[0,30,60,90,120]}},"y":{"field":"n","type":"quantitative","title":"n.censor","scale":{"domain":[-0.1,2.1],"nice":false,"zero":false},"axis":{"values":[0,1,2],"titlePadding":29}},"y2":{"datum":0},"color":{"field":"g","type":"nominal","legend":null}}}
]},
{"title":{"text":"F","anchor":"start","frame":"bounds","font":"Liberation Serif","fontSize":17,"fontWeight":"bold","color":"#000","dx":-8,"dy":16,"offset":0},
"resolve":{"scale":{"color":"independent"},"legend":{"color":"independent"}},
"vconcat":[
{"title":{"text":"OS group by CELSR3 in stage I/II","anchor":"middle","font":"Liberation Serif","fontSize":11.5,"color":"#000","offset":12},
"width":196,"height":75,
"layer":[
{"data":{"name":"km"},"transform":[{"filter":"datum.p=='F'"},{"flatten":["t","s","lo","hi"]}],"mark":{"type":"area","interpolate":"step-after","opacity":0.38},
"encoding":{"x":{"field":"t","type":"quantitative","title":"Time in months","scale":{"domain":[-6,126],"nice":false,"zero":false},"axis":{"values":[0,15,30,45,60,75,90,105,120],"labelExpr":"datum.value % 30 ? '' : datum.label"}},"y":{"field":"lo","type":"quantitative","title":"Survival probability","scale":{"domain":[-0.05,1.05],"nice":false,"zero":false},"axis":{"values":[0,0.125,0.25,0.375,0.5,0.625,0.75,0.875,1],"format":".2f","labelExpr":"(datum.value*8) % 2 ? '' : datum.label","titlePadding":23}},"y2":{"field":"hi"},"color":{"field":"g","type":"nominal","title":"Strata"}}},
{"data":{"name":"km"},"transform":[{"filter":"datum.p=='F'"},{"flatten":["t","s","lo","hi"]}],"mark":{"type":"line","interpolate":"step-after","strokeWidth":1.1},
"encoding":{"x":{"field":"t","type":"quantitative","title":"Time in months","scale":{"domain":[-6,126],"nice":false,"zero":false},"axis":{"values":[0,15,30,45,60,75,90,105,120],"labelExpr":"datum.value % 30 ? '' : datum.label"}},"y":{"field":"s","type":"quantitative","title":"Survival probability","scale":{"domain":[-0.05,1.05],"nice":false,"zero":false},"axis":{"values":[0,0.125,0.25,0.375,0.5,0.625,0.75,0.875,1],"format":".2f","labelExpr":"(datum.value*8) % 2 ? '' : datum.label","titlePadding":23}},"color":{"field":"g","type":"nominal","title":"Strata"}}},
{"data":{"name":"cr"},"transform":[{"filter":"datum.p=='F'"},{"flatten":["t","s"]}],"mark":{"type":"point","shape":"M-1,0H1M0,-1V1","filled":false,"size":14,"strokeWidth":0.8,"opacity":1},
"encoding":{"x":{"field":"t","type":"quantitative","title":"Time in months","scale":{"domain":[-6,126],"nice":false,"zero":false},"axis":{"values":[0,15,30,45,60,75,90,105,120],"labelExpr":"datum.value % 30 ? '' : datum.label"}},"y":{"field":"s","type":"quantitative","title":"Survival probability","scale":{"domain":[-0.05,1.05],"nice":false,"zero":false},"axis":{"values":[0,0.125,0.25,0.375,0.5,0.625,0.75,0.875,1],"format":".2f","labelExpr":"(datum.value*8) % 2 ? '' : datum.label","titlePadding":23}},"color":{"field":"g","type":"nominal","title":"Strata"}}},
{"data":{"values":[{}]},"mark":{"type":"text","align":"left","baseline":"middle","fontSize":8,"color":"#000"},"encoding":{"x":{"datum":2,"type":"quantitative","title":"Time in months","scale":{"domain":[-6,126],"nice":false,"zero":false},"axis":{"values":[0,15,30,45,60,75,90,105,120],"labelExpr":"datum.value % 30 ? '' : datum.label"}},"y":{"datum":0.19,"type":"quantitative","title":"Survival probability","scale":{"domain":[-0.05,1.05],"nice":false,"zero":false},"axis":{"values":[0,0.125,0.25,0.375,0.5,0.625,0.75,0.875,1],"format":".2f","labelExpr":"(datum.value*8) % 2 ? '' : datum.label","titlePadding":23}},"text":{"value":"p = 0.041"}}}
]},
{"title":{"text":"Number at risk"},"width":196,"height":30,"data":{"name":"risk"},"transform":[{"filter":"datum.p=='F'"},{"flatten":["t","n"]}],"mark":{"type":"text","fontSize":6.5,"color":"#111"},
"encoding":{"x":{"field":"t","type":"quantitative","title":"Time in months","scale":{"domain":[-6,126],"nice":false,"zero":false},"axis":{"values":[0,30,60,90,120]}},"y":{"field":"g","type":"nominal","title":"Strata","scale":{"domain":["CELSR3=high","CELSR3=low"],"padding":0.7},"axis":{"grid":false,"ticks":false,"labelColor":{"condition":{"test":"datum.value=='CELSR3=high'","value":"#F01818"},"value":"#1A1A9C"}}},"text":{"field":"n","type":"quantitative"}}},
{"title":{"text":"Number of censoring"},"width":196,"height":29,"data":{"name":"cen"},"transform":[{"filter":"datum.p=='F'"},{"flatten":["t","n"]}],"mark":{"type":"bar","width":1.2,"opacity":0.65},
"encoding":{"x":{"field":"t","type":"quantitative","title":"Time in months","scale":{"domain":[-6,126],"nice":false,"zero":false},"axis":{"values":[0,30,60,90,120]}},"y":{"field":"n","type":"quantitative","title":"n.censor","scale":{"domain":[-0.1,2.1],"nice":false,"zero":false},"axis":{"values":[0,1,2],"titlePadding":29}},"y2":{"datum":0},"color":{"field":"g","type":"nominal","legend":null}}}
]},
{"title":{"text":"G","anchor":"start","frame":"bounds","font":"Liberation Serif","fontSize":17,"fontWeight":"bold","color":"#000","dx":-8,"dy":16,"offset":0},
"resolve":{"scale":{"color":"independent"},"legend":{"color":"independent"}},
"vconcat":[
{"title":{"text":"OS group by CELSR3 in N0","anchor":"middle","font":"Liberation Serif","fontSize":11.5,"color":"#000","offset":12},
"width":196,"height":75,
"layer":[
{"data":{"name":"km"},"transform":[{"filter":"datum.p=='G'"},{"flatten":["t","s","lo","hi"]}],"mark":{"type":"area","interpolate":"step-after","opacity":0.38},
"encoding":{"x":{"field":"t","type":"quantitative","title":"Time in months","scale":{"domain":[-6,126],"nice":false,"zero":false},"axis":{"values":[0,15,30,45,60,75,90,105,120],"labelExpr":"datum.value % 30 ? '' : datum.label"}},"y":{"field":"lo","type":"quantitative","title":"Survival probability","scale":{"domain":[-0.05,1.05],"nice":false,"zero":false},"axis":{"values":[0,0.125,0.25,0.375,0.5,0.625,0.75,0.875,1],"format":".2f","labelExpr":"(datum.value*8) % 2 ? '' : datum.label","titlePadding":23}},"y2":{"field":"hi"},"color":{"field":"g","type":"nominal","title":"Strata"}}},
{"data":{"name":"km"},"transform":[{"filter":"datum.p=='G'"},{"flatten":["t","s","lo","hi"]}],"mark":{"type":"line","interpolate":"step-after","strokeWidth":1.1},
"encoding":{"x":{"field":"t","type":"quantitative","title":"Time in months","scale":{"domain":[-6,126],"nice":false,"zero":false},"axis":{"values":[0,15,30,45,60,75,90,105,120],"labelExpr":"datum.value % 30 ? '' : datum.label"}},"y":{"field":"s","type":"quantitative","title":"Survival probability","scale":{"domain":[-0.05,1.05],"nice":false,"zero":false},"axis":{"values":[0,0.125,0.25,0.375,0.5,0.625,0.75,0.875,1],"format":".2f","labelExpr":"(datum.value*8) % 2 ? '' : datum.label","titlePadding":23}},"color":{"field":"g","type":"nominal","title":"Strata"}}},
{"data":{"name":"cr"},"transform":[{"filter":"datum.p=='G'"},{"flatten":["t","s"]}],"mark":{"type":"point","shape":"M-1,0H1M0,-1V1","filled":false,"size":14,"strokeWidth":0.8,"opacity":1},
"encoding":{"x":{"field":"t","type":"quantitative","title":"Time in months","scale":{"domain":[-6,126],"nice":false,"zero":false},"axis":{"values":[0,15,30,45,60,75,90,105,120],"labelExpr":"datum.value % 30 ? '' : datum.label"}},"y":{"field":"s","type":"quantitative","title":"Survival probability","scale":{"domain":[-0.05,1.05],"nice":false,"zero":false},"axis":{"values":[0,0.125,0.25,0.375,0.5,0.625,0.75,0.875,1],"format":".2f","labelExpr":"(datum.value*8) % 2 ? '' : datum.label","titlePadding":23}},"color":{"field":"g","type":"nominal","title":"Strata"}}},
{"data":{"values":[{}]},"mark":{"type":"text","align":"left","baseline":"middle","fontSize":8,"color":"#000"},"encoding":{"x":{"datum":2,"type":"quantitative","title":"Time in months","scale":{"domain":[-6,126],"nice":false,"zero":false},"axis":{"values":[0,15,30,45,60,75,90,105,120],"labelExpr":"datum.value % 30 ? '' : datum.label"}},"y":{"datum":0.19,"type":"quantitative","title":"Survival probability","scale":{"domain":[-0.05,1.05],"nice":false,"zero":false},"axis":{"values":[0,0.125,0.25,0.375,0.5,0.625,0.75,0.875,1],"format":".2f","labelExpr":"(datum.value*8) % 2 ? '' : datum.label","titlePadding":23}},"text":{"value":"p = 0.0032"}}}
]},
{"title":{"text":"Number at risk"},"width":196,"height":30,"data":{"name":"risk"},"transform":[{"filter":"datum.p=='G'"},{"flatten":["t","n"]}],"mark":{"type":"text","fontSize":6.5,"color":"#111"},
"encoding":{"x":{"field":"t","type":"quantitative","title":"Time in months","scale":{"domain":[-6,126],"nice":false,"zero":false},"axis":{"values":[0,30,60,90,120]}},"y":{"field":"g","type":"nominal","title":"Strata","scale":{"domain":["CELSR3=high","CELSR3=low"],"padding":0.7},"axis":{"grid":false,"ticks":false,"labelColor":{"condition":{"test":"datum.value=='CELSR3=high'","value":"#F01818"},"value":"#1A1A9C"}}},"text":{"field":"n","type":"quantitative"}}},
{"title":{"text":"Number of censoring"},"width":196,"height":29,"data":{"name":"cen"},"transform":[{"filter":"datum.p=='G'"},{"flatten":["t","n"]}],"mark":{"type":"bar","width":1.2,"opacity":0.65},
"encoding":{"x":{"field":"t","type":"quantitative","title":"Time in months","scale":{"domain":[-6,126],"nice":false,"zero":false},"axis":{"values":[0,30,60,90,120]}},"y":{"field":"n","type":"quantitative","title":"n.censor","scale":{"domain":[-0.1,2.1],"nice":false,"zero":false},"axis":{"values":[0,1,2],"titlePadding":29}},"y2":{"datum":0},"color":{"field":"g","type":"nominal","legend":null}}}
]},
{"title":{"text":"H","anchor":"start","frame":"bounds","font":"Liberation Serif","fontSize":17,"fontWeight":"bold","color":"#000","dx":-8,"dy":16,"offset":0},
"resolve":{"scale":{"color":"independent"},"legend":{"color":"independent"}},
"vconcat":[
{"title":{"text":"OS group by CELSR3 in M0","anchor":"middle","font":"Liberation Serif","fontSize":11.5,"color":"#000","offset":12},
"width":196,"height":75,
"layer":[
{"data":{"name":"km"},"transform":[{"filter":"datum.p=='H'"},{"flatten":["t","s","lo","hi"]}],"mark":{"type":"area","interpolate":"step-after","opacity":0.38},
"encoding":{"x":{"field":"t","type":"quantitative","title":"Time in months","scale":{"domain":[-6,126],"nice":false,"zero":false},"axis":{"values":[0,15,30,45,60,75,90,105,120],"labelExpr":"datum.value % 30 ? '' : datum.label"}},"y":{"field":"lo","type":"quantitative","title":"Survival probability","scale":{"domain":[-0.05,1.05],"nice":false,"zero":false},"axis":{"values":[0,0.125,0.25,0.375,0.5,0.625,0.75,0.875,1],"format":".2f","labelExpr":"(datum.value*8) % 2 ? '' : datum.label","titlePadding":23}},"y2":{"field":"hi"},"color":{"field":"g","type":"nominal","title":"Strata"}}},
{"data":{"name":"km"},"transform":[{"filter":"datum.p=='H'"},{"flatten":["t","s","lo","hi"]}],"mark":{"type":"line","interpolate":"step-after","strokeWidth":1.1},
"encoding":{"x":{"field":"t","type":"quantitative","title":"Time in months","scale":{"domain":[-6,126],"nice":false,"zero":false},"axis":{"values":[0,15,30,45,60,75,90,105,120],"labelExpr":"datum.value % 30 ? '' : datum.label"}},"y":{"field":"s","type":"quantitative","title":"Survival probability","scale":{"domain":[-0.05,1.05],"nice":false,"zero":false},"axis":{"values":[0,0.125,0.25,0.375,0.5,0.625,0.75,0.875,1],"format":".2f","labelExpr":"(datum.value*8) % 2 ? '' : datum.label","titlePadding":23}},"color":{"field":"g","type":"nominal","title":"Strata"}}},
{"data":{"name":"cr"},"transform":[{"filter":"datum.p=='H'"},{"flatten":["t","s"]}],"mark":{"type":"point","shape":"M-1,0H1M0,-1V1","filled":false,"size":14,"strokeWidth":0.8,"opacity":1},
"encoding":{"x":{"field":"t","type":"quantitative","title":"Time in months","scale":{"domain":[-6,126],"nice":false,"zero":false},"axis":{"values":[0,15,30,45,60,75,90,105,120],"labelExpr":"datum.value % 30 ? '' : datum.label"}},"y":{"field":"s","type":"quantitative","title":"Survival probability","scale":{"domain":[-0.05,1.05],"nice":false,"zero":false},"axis":{"values":[0,0.125,0.25,0.375,0.5,0.625,0.75,0.875,1],"format":".2f","labelExpr":"(datum.value*8) % 2 ? '' : datum.label","titlePadding":23}},"color":{"field":"g","type":"nominal","title":"Strata"}}},
{"data":{"values":[{}]},"mark":{"type":"text","align":"left","baseline":"middle","fontSize":8,"color":"#000"},"encoding":{"x":{"datum":2,"type":"quantitative","title":"Time in months","scale":{"domain":[-6,126],"nice":false,"zero":false},"axis":{"values":[0,15,30,45,60,75,90,105,120],"labelExpr":"datum.value % 30 ? '' : datum.label"}},"y":{"datum":0.19,"type":"quantitative","title":"Survival probability","scale":{"domain":[-0.05,1.05],"nice":false,"zero":false},"axis":{"values":[0,0.125,0.25,0.375,0.5,0.625,0.75,0.875,1],"format":".2f","labelExpr":"(datum.value*8) % 2 ? '' : datum.label","titlePadding":23}},"text":{"value":"p = 0.00065"}}}
]},
{"title":{"text":"Number at risk"},"width":196,"height":30,"data":{"name":"risk"},"transform":[{"filter":"datum.p=='H'"},{"flatten":["t","n"]}],"mark":{"type":"text","fontSize":6.5,"color":"#111"},
"encoding":{"x":{"field":"t","type":"quantitative","title":"Time in months","scale":{"domain":[-6,126],"nice":false,"zero":false},"axis":{"values":[0,30,60,90,120]}},"y":{"field":"g","type":"nominal","title":"Strata","scale":{"domain":["CELSR3=high","CELSR3=low"],"padding":0.7},"axis":{"grid":false,"ticks":false,"labelColor":{"condition":{"test":"datum.value=='CELSR3=high'","value":"#F01818"},"value":"#1A1A9C"}}},"text":{"field":"n","type":"quantitative"}}},
{"title":{"text":"Number of censoring"},"width":196,"height":29,"data":{"name":"cen"},"transform":[{"filter":"datum.p=='H'"},{"flatten":["t","n"]}],"mark":{"type":"bar","width":1.2,"opacity":0.65},
"encoding":{"x":{"field":"t","type":"quantitative","title":"Time in months","scale":{"domain":[-6,126],"nice":false,"zero":false},"axis":{"values":[0,30,60,90,120]}},"y":{"field":"n","type":"quantitative","title":"n.censor","scale":{"domain":[-0.1,2.1],"nice":false,"zero":false},"axis":{"values":[0,1,2],"titlePadding":29}},"y2":{"datum":0},"color":{"field":"g","type":"nominal","legend":null}}}
]},
{"title":{"text":"I","anchor":"start","frame":"bounds","font":"Liberation Serif","fontSize":17,"fontWeight":"bold","color":"#000","dx":-8,"dy":16,"offset":0},
"resolve":{"scale":{"color":"independent"},"legend":{"color":"independent"}},
"vconcat":[
{"title":{"text":"OS group by CELSR3 in R0","anchor":"middle","font":"Liberation Serif","fontSize":11.5,"color":"#000","offset":12},
"width":196,"height":75,
"layer":[
{"data":{"name":"km"},"transform":[{"filter":"datum.p=='I'"},{"flatten":["t","s","lo","hi"]}],"mark":{"type":"area","interpolate":"step-after","opacity":0.38},
"encoding":{"x":{"field":"t","type":"quantitative","title":"Time in months","scale":{"domain":[-6,126],"nice":false,"zero":false},"axis":{"values":[0,15,30,45,60,75,90,105,120],"labelExpr":"datum.value % 30 ? '' : datum.label"}},"y":{"field":"lo","type":"quantitative","title":"Survival probability","scale":{"domain":[-0.05,1.05],"nice":false,"zero":false},"axis":{"values":[0,0.125,0.25,0.375,0.5,0.625,0.75,0.875,1],"format":".2f","labelExpr":"(datum.value*8) % 2 ? '' : datum.label","titlePadding":23}},"y2":{"field":"hi"},"color":{"field":"g","type":"nominal","title":"Strata"}}},
{"data":{"name":"km"},"transform":[{"filter":"datum.p=='I'"},{"flatten":["t","s","lo","hi"]}],"mark":{"type":"line","interpolate":"step-after","strokeWidth":1.1},
"encoding":{"x":{"field":"t","type":"quantitative","title":"Time in months","scale":{"domain":[-6,126],"nice":false,"zero":false},"axis":{"values":[0,15,30,45,60,75,90,105,120],"labelExpr":"datum.value % 30 ? '' : datum.label"}},"y":{"field":"s","type":"quantitative","title":"Survival probability","scale":{"domain":[-0.05,1.05],"nice":false,"zero":false},"axis":{"values":[0,0.125,0.25,0.375,0.5,0.625,0.75,0.875,1],"format":".2f","labelExpr":"(datum.value*8) % 2 ? '' : datum.label","titlePadding":23}},"color":{"field":"g","type":"nominal","title":"Strata"}}},
{"data":{"name":"cr"},"transform":[{"filter":"datum.p=='I'"},{"flatten":["t","s"]}],"mark":{"type":"point","shape":"M-1,0H1M0,-1V1","filled":false,"size":14,"strokeWidth":0.8,"opacity":1},
"encoding":{"x":{"field":"t","type":"quantitative","title":"Time in months","scale":{"domain":[-6,126],"nice":false,"zero":false},"axis":{"values":[0,15,30,45,60,75,90,105,120],"labelExpr":"datum.value % 30 ? '' : datum.label"}},"y":{"field":"s","type":"quantitative","title":"Survival probability","scale":{"domain":[-0.05,1.05],"nice":false,"zero":false},"axis":{"values":[0,0.125,0.25,0.375,0.5,0.625,0.75,0.875,1],"format":".2f","labelExpr":"(datum.value*8) % 2 ? '' : datum.label","titlePadding":23}},"color":{"field":"g","type":"nominal","title":"Strata"}}},
{"data":{"values":[{}]},"mark":{"type":"text","align":"left","baseline":"middle","fontSize":8,"color":"#000"},"encoding":{"x":{"datum":2,"type":"quantitative","title":"Time in months","scale":{"domain":[-6,126],"nice":false,"zero":false},"axis":{"values":[0,15,30,45,60,75,90,105,120],"labelExpr":"datum.value % 30 ? '' : datum.label"}},"y":{"datum":0.19,"type":"quantitative","title":"Survival probability","scale":{"domain":[-0.05,1.05],"nice":false,"zero":false},"axis":{"values":[0,0.125,0.25,0.375,0.5,0.625,0.75,0.875,1],"format":".2f","labelExpr":"(datum.value*8) % 2 ? '' : datum.label","titlePadding":23}},"text":{"value":"p = 2e−04"}}}
]},
{"title":{"text":"Number at risk"},"width":196,"height":30,"data":{"name":"risk"},"transform":[{"filter":"datum.p=='I'"},{"flatten":["t","n"]}],"mark":{"type":"text","fontSize":6.5,"color":"#111"},
"encoding":{"x":{"field":"t","type":"quantitative","title":"Time in months","scale":{"domain":[-6,126],"nice":false,"zero":false},"axis":{"values":[0,30,60,90,120]}},"y":{"field":"g","type":"nominal","title":"Strata","scale":{"domain":["CELSR3=high","CELSR3=low"],"padding":0.7},"axis":{"grid":false,"ticks":false,"labelColor":{"condition":{"test":"datum.value=='CELSR3=high'","value":"#F01818"},"value":"#1A1A9C"}}},"text":{"field":"n","type":"quantitative"}}},
{"title":{"text":"Number of censoring"},"width":196,"height":29,"data":{"name":"cen"},"transform":[{"filter":"datum.p=='I'"},{"flatten":["t","n"]}],"mark":{"type":"bar","width":1.2,"opacity":0.65},
"encoding":{"x":{"field":"t","type":"quantitative","title":"Time in months","scale":{"domain":[-6,126],"nice":false,"zero":false},"axis":{"values":[0,30,60,90,120]}},"y":{"field":"n","type":"quantitative","title":"n.censor","scale":{"domain":[-0.1,2.1],"nice":false,"zero":false},"axis":{"values":[0,1,2],"titlePadding":29}},"y2":{"datum":0},"color":{"field":"g","type":"nominal","legend":null}}}
]},
{"data":{"values":[]},"mark":"point","width":10,"height":10,"view":{"stroke":null}},
{"title":{"text":"J","anchor":"start","frame":"bounds","font":"Liberation Serif","fontSize":17,"fontWeight":"bold","color":"#000","dx":-8,"dy":16,"offset":0},
"resolve":{"scale":{"color":"independent"},"legend":{"color":"independent"}},
"vconcat":[
{"title":{"text":"OS group by CELSR3 in GSE54236","anchor":"middle","font":"Liberation Serif","fontSize":11.5,"color":"#000","offset":12},
"width":196,"height":75,
"layer":[
{"data":{"name":"km"},"transform":[{"filter":"datum.p=='J'"},{"flatten":["t","s","lo","hi"]}],"mark":{"type":"area","interpolate":"step-after","opacity":0.38},
"encoding":{"x":{"field":"t","type":"quantitative","title":"Time in months","scale":{"domain":[-2.6,52.4],"nice":false,"zero":false},"axis":{"values":[0,5,10,15,20,25,30,35,40,45,50],"labelExpr":"datum.value % 10 ? '' : datum.label"}},"y":{"field":"lo","type":"quantitative","title":"Survival probability","scale":{"domain":[-0.05,1.05],"nice":false,"zero":false},"axis":{"values":[0,0.125,0.25,0.375,0.5,0.625,0.75,0.875,1],"format":".2f","labelExpr":"(datum.value*8) % 2 ? '' : datum.label","titlePadding":23}},"y2":{"field":"hi"},"color":{"field":"g","type":"nominal","title":"Strata"}}},
{"data":{"name":"km"},"transform":[{"filter":"datum.p=='J'"},{"flatten":["t","s","lo","hi"]}],"mark":{"type":"line","interpolate":"step-after","strokeWidth":1.1},
"encoding":{"x":{"field":"t","type":"quantitative","title":"Time in months","scale":{"domain":[-2.6,52.4],"nice":false,"zero":false},"axis":{"values":[0,5,10,15,20,25,30,35,40,45,50],"labelExpr":"datum.value % 10 ? '' : datum.label"}},"y":{"field":"s","type":"quantitative","title":"Survival probability","scale":{"domain":[-0.05,1.05],"nice":false,"zero":false},"axis":{"values":[0,0.125,0.25,0.375,0.5,0.625,0.75,0.875,1],"format":".2f","labelExpr":"(datum.value*8) % 2 ? '' : datum.label","titlePadding":23}},"color":{"field":"g","type":"nominal","title":"Strata"}}},
{"data":{"values":[{}]},"mark":{"type":"text","align":"left","baseline":"middle","fontSize":8,"color":"#000"},"encoding":{"x":{"datum":1,"type":"quantitative","title":"Time in months","scale":{"domain":[-2.6,52.4],"nice":false,"zero":false},"axis":{"values":[0,5,10,15,20,25,30,35,40,45,50],"labelExpr":"datum.value % 10 ? '' : datum.label"}},"y":{"datum":0.19,"type":"quantitative","title":"Survival probability","scale":{"domain":[-0.05,1.05],"nice":false,"zero":false},"axis":{"values":[0,0.125,0.25,0.375,0.5,0.625,0.75,0.875,1],"format":".2f","labelExpr":"(datum.value*8) % 2 ? '' : datum.label","titlePadding":23}},"text":{"value":"p = 0.0074"}}}
]},
{"title":{"text":"Number at risk"},"width":196,"height":30,"data":{"name":"risk"},"transform":[{"filter":"datum.p=='J'"},{"flatten":["t","n"]}],"mark":{"type":"text","fontSize":6.5,"color":"#111"},
"encoding":{"x":{"field":"t","type":"quantitative","title":"Time in months","scale":{"domain":[-2.6,52.4],"nice":false,"zero":false},"axis":{"values":[0,10,20,30,40,50]}},"y":{"field":"g","type":"nominal","title":"Strata","scale":{"domain":["CELSR3=high","CELSR3=low"],"padding":0.7},"axis":{"grid":false,"ticks":false,"labelColor":{"condition":{"test":"datum.value=='CELSR3=high'","value":"#F01818"},"value":"#1A1A9C"}}},"text":{"field":"n","type":"quantitative"}}},
{"title":{"text":"Number of censoring"},"width":196,"height":29,"data":{"name":"cj"},"transform":[{"flatten":["t"]}],"mark":{"type":"point","shape":"M-1,0H1","filled":false,"size":14,"strokeWidth":0.9,"opacity":0.6},
"encoding":{"x":{"field":"t","type":"quantitative","title":"Time in months","scale":{"domain":[-2.6,52.4],"nice":false,"zero":false},"axis":{"values":[0,10,20,30,40,50]}},"y":{"datum":0,"type":"quantitative","title":"n.censor","scale":{"domain":[-1,1],"nice":false,"zero":false},"axis":{"values":[0],"titlePadding":29}},"color":{"field":"g","type":"nominal","legend":null}}}
]}
],
"config":{
"font":"Liberation Sans",
"range":{"category":["#F01818","#1A1A9C"]},
"view":{"stroke":"#d4d4d4","strokeWidth":0.6},
"axis":{"labelFontSize":4.6,"labelColor":"#4d4d4d","labelOverlap":false,"titleFontSize":6,"titleFontWeight":"normal","titleColor":"#111","gridColor":"#ebebeb","gridWidth":0.6,"domain":false,"tickColor":"#c8c8c8","tickSize":2,"tickWidth":0.5,"labelPadding":1.5,"titlePadding":2},
"legend":{"orient":"none","legendX":44,"legendY":-16,"direction":"horizontal","titleOrient":"left","titleFontSize":5.5,"titleFontWeight":"normal","titleColor":"#111","labelFontSize":4.8,"labelColor":"#222","symbolType":"square","symbolSize":40,"columnPadding":5,"titlePadding":4,"labelOffset":2},
"title":{"font":"Liberation Sans","fontWeight":"normal","color":"#111","fontSize":6.5,"anchor":"start","offset":3},
"concat":{"spacing":1}
}
}
